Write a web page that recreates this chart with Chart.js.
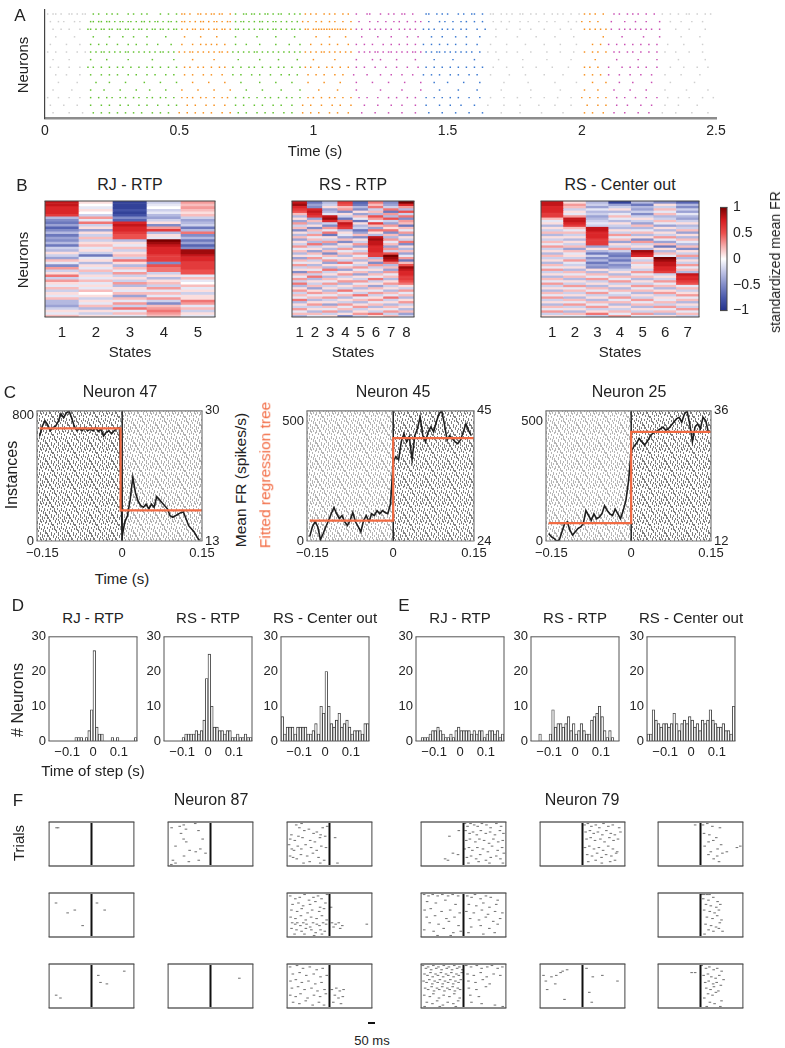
<!DOCTYPE html>
<html>
<head>
<meta charset="utf-8">
<script src="https://cdn.jsdelivr.net/npm/chart.js@4.4.1/dist/chart.umd.min.js"></script>
<style>
  body { margin: 0; background: #fff; }
  #fig { position: relative; width: 785px; height: 1048px; overflow: hidden; color: #222; }
  #fig canvas { position: absolute; }
  .t { position: absolute; white-space: nowrap; line-height: 1; transform: translate(-50%, -50%); }
</style>
</head>
<body>
<div id="fig"></div>
<script>
// ---- panel A: population raster (spike times in 10 ms units, one string per neuron)
const aTicks = [0, 0.5, 1, 1.5, 2, 2.5];
const aStateEdges = [0, 0.16, 0.5, 0.7, 0.96, 1.15, 1.41, 1.65, 2.0, 2.1, 2.3, 2.5];
const aStateColors = ['#cfcfcf', '#62c22f', '#f7901e', '#62c22f', '#f7901e', '#c94fb4', '#3a78d0', '#cfcfcf', '#f7901e', '#c94fb4', '#cfcfcf'];
const aRows = [
  "1 3 4 6 9 10 12 14 15 18 20 23 25 27 31 33 36 38 43 46 49 51 52 54 57 58 60 62 63 65 66 69 71 74 75 77 78 80 82 83 85 87 88 91 93 95 97 99 101 104 106 108 111 113 116 120 121 125 128 130 133 134 137 142 143 146 148 150 154 156 159 160 163 166 167 170 172 174 177 178 181 183 186 189 191 193 196 199 201 203 205 208 212 214 217 219 221 224 227 230 233 236 239 240 243 246 248",
  "2 5 7 11 13 17 18 20 21 23 24 26 28 29 31 32 34 36 37 39 41 42 44 46 47 49 51 52 54 56 58 59 61 63 64 66 68 69 71 73 74 76 78 80 81 83 85 86 88 90 92 94 96 98 101 103 106 108 111 114 117 121 124 127 130 132 135 138 140 143 147 149 152 155 157 160 163 167 170 173 177 180 184 187 190 195 198 200 203 206 211 216 220 224 229 233 237 241 245",
  "3 6 9 13 16 17 19 21 22 24 25 27 28 30 31 33 35 36 38 40 41 43 44 46 48 49 51 53 55 56 58 59 61 63 64 66 67 69 71 72 74 76 78 80 81 83 85 86 88 90 92 93 95 97 98 100 101 102 103 104 105 106 107 108 109 110 111 112 114 116 118 121 123 125 127 129 132 134 136 138 141 143 145 148 150 152 155 157 161 164 168 172 177 181 186 192 196 201 203 205 207 209 211 214 216 218 220 222 224 226 229 235 240 246",
  "4 11 18 24 29 33 38 45 52 58 64 71 79 86 93 101 106 112 118 124 129 135 139 144 148 153 157 162 168 176 183 190 197 208 215 223 229 237 244",
  "2 8 13 17 20 23 27 31 34 38 42 47 51 55 58 60 62 64 67 71 75 80 86 91 95 99 103 106 109 113 116 119 122 126 129 132 135 138 141 144 147 150 153 157 161 166 172 179 186 192 198 204 207 210 213 216 219 222 225 228 232 238 245",
  "1 4 8 12 15 17 19 21 22 24 26 28 30 31 33 35 37 39 41 43 44 46 48 50 52 54 55 57 59 61 63 65 66 68 70 72 74 76 78 79 81 83 85 87 89 91 93 95 97 99 101 103 104 106 108 110 112 114 117 119 121 123 124 126 128 129 131 133 135 137 138 140 142 144 146 147 149 151 153 155 157 159 162 165 168 172 176 181 187 192 197 201 204 206 209 212 214 217 219 222 225 228 231 235 240 245",
  "3 9 17 23 31 40 48 55 63 72 80 87 94 100 108 116 122 125 131 138 145 152 160 169 178 187 196 205 213 221 228 236 246",
  "2 5 9 13 16 18 21 24 27 29 32 35 38 40 43 46 49 52 54 57 59 62 65 67 70 73 76 78 81 84 87 89 92 95 97 99 102 105 107 110 113 116 119 123 127 131 135 139 142 145 148 151 154 157 160 163 167 172 178 183 189 195 201 203 206 210 215 218 221 224 228 233 238 243 247",
  "4 8 13 17 21 24 27 31 34 38 41 45 48 52 55 59 62 66 70 73 77 80 84 88 91 94 98 101 104 108 111 115 120 125 129 133 137 141 144 147 151 154 158 161 166 173 179 186 193 201 204 207 210 214 218 222 226 231 237 244",
  "5 12 19 24 30 37 43 49 55 61 67 73 80 86 92 98 104 110 116 122 128 134 140 145 150 156 162 171 180 190 198 204 209 214 219 226 233 242",
  "3 10 17 22 28 34 39 45 51 57 63 69 75 81 88 95 102 109 116 125 133 140 147 154 161 170 181 192 201 206 212 218 224 231 239 247",
  "1 5 9 13 17 20 23 25 28 30 33 35 38 40 43 45 48 51 53 55 58 60 63 66 68 71 74 76 79 82 84 87 90 92 95 98 100 103 106 108 111 114 117 120 124 128 131 135 138 142 145 148 151 154 158 162 166 171 176 181 186 191 196 200 203 206 209 213 216 220 224 228 232 236 240 245 249",
  "2 7 12 17 21 24 28 31 35 38 42 46 49 53 56 60 63 67 71 74 78 81 85 88 92 96 99 103 107 110 114 119 124 129 133 138 142 147 151 155 160 165 171 177 184 190 196 202 206 209 213 217 222 226 231 236 243",
  "3 9 14 18 21 24 27 30 33 36 40 43 46 50 53 56 59 62 66 69 72 75 79 82 85 89 92 96 99 102 106 109 113 118 123 128 133 138 143 148 153 158 163 170 177 185 193 201 204 208 212 216 221 225 230 235 241 247"
];

// ---- panel B: standardized mean firing rate per neuron (rows) and state (columns)
const bStates = ['1', '2', '3', '4', '5', '6', '7', '8'];
const cbTicks = [-1, -0.5, 0, 0.5, 1];
const rjRtp = [
  [.8,.1,-.9,-.2,.3],[.8,0,-.9,-.1,.2],[.7,-.1,-.9,0,.3],[.7,.1,-.8,-.2,.2],[.7,0,-.9,-.1,.1],[.6,-.2,-.8,-.3,.2],
  [-.3,.3,-.5,-.4,-.2],[-.5,-.1,-.7,-.2,-.4],[-.6,.4,.7,.1,-.3],[-.4,-.2,.8,-.5,-.2],[-.7,.1,.7,.3,-.6],[-.5,-.4,.7,.6,-.3],
  [-.3,.1,.6,-.3,.4],[-.6,-.2,.5,.1,-.5],[-.4,.2,.5,-.1,-.3],[-.5,-.2,-.3,1,-.6],[-.3,.1,.1,.9,-.4],[-.6,.2,-.1,.8,-.7],
  [-.2,-.1,.2,.7,-.5],[-.3,.1,-.2,.7,.9],[.1,-.2,.1,.7,.9],[-.2,-.6,.2,.6,.8],[-.4,-.1,-.2,.6,.7],[.2,.1,.4,.6,.7],
  [-.1,-.3,.1,-.5,.6],[-.5,.1,-.3,.5,.6],[.3,-.1,.2,.4,.6],[-.2,.2,-.1,.4,.5],[.1,-.2,.3,-.2,.5],[.4,.1,-.2,.1,-.1],
  [-.2,-.1,.1,-.3,.2],[.3,.2,-.2,.1,-.1],[.1,-.1,.3,.2,0],[-.1,.1,-.3,-.2,.2],[.2,-.1,.1,.3,-.1],[-.2,.2,-.1,-.1,.1],
  [.1,0,.2,.2,-.2],[-.1,.1,-.4,-.1,.1],[.2,-.2,.2,.3,.1],[-.3,.1,-.1,-.2,.4],[-.3,-.1,.3,-.5,.3],[-.4,.2,-.2,.2,-.1],
  [-.2,-.3,.4,.3,.2],[.1,.1,-.1,.4,-.2],[-.1,-.2,.2,.3,.1],[.2,.1,-.1,.2,-.1]
];
const rsRtp = [
  [.8,-.6,-.3,.6,-.7,.4,-.5,1],[.9,-.4,-.2,.5,-.6,.2,-.4,.7],[.7,-.5,.1,.2,-.3,.4,-.2,.3],[.6,.7,-.4,.3,-.5,-.2,.4,-.3],
  [.5,.8,-.3,-.5,.1,.2,-.6,.5],[.2,.7,-.1,.1,-.4,-.3,.3,-.2],[-.3,.6,.8,-.2,.2,.5,-.3,.4],[.1,-.4,.9,-.6,-.1,.3,.5,-.5],
  [-.4,.2,.7,.4,-.6,-.1,-.2,.3],[.3,-.3,-.2,.8,.1,.6,-.4,.2],[-.2,.1,-.5,.7,-.3,.2,.3,-.6],[.2,-.5,.3,.6,-.2,-.4,.1,.2],
  [-.5,.2,-.1,-.3,-.6,.4,.4,-.1],[.1,-.2,.4,.1,-.4,.1,-.5,.3],[-.3,.3,-.6,-.1,.2,-.3,.2,-.4],[.2,-.1,.1,-.4,-.5,.8,-.3,.1],
  [-.4,.2,-.2,.2,.1,.9,.3,-.2],[.1,-.3,.3,-.5,-.2,.8,-.1,.4],[-.2,.4,-.4,.1,.3,.8,.2,-.5],[.3,-.2,.1,-.2,-.4,.7,-.4,.1],
  [-.1,.1,-.3,.3,.1,.7,.3,-.3],[.2,-.4,.2,-.1,-.2,.7,-.2,.2],[-.3,.2,-.5,.2,.3,.6,.5,-.4],[.1,-.1,.2,-.3,-.1,.6,1,-.1],
  [-.4,.3,-.1,.1,.2,-.3,.9,.3],[.2,-.2,.3,-.2,-.3,.2,.8,-.6],[-.1,.1,-.4,.4,.1,-.5,.4,.2],[.3,-.3,.1,-.1,-.2,.3,-.3,.5],
  [-.2,.2,-.3,.2,.3,-.2,.2,.9],[.1,-.1,.4,-.4,-.1,.1,-.4,.8],[-.5,.3,-.2,.1,.2,-.3,.3,.7],[.2,-.2,.1,.3,-.4,.2,-.1,.7],
  [-.1,.4,-.3,-.2,.1,-.1,.2,.6],[.3,-.3,.2,.1,-.2,.4,-.3,.6],[-.2,.1,-.1,.3,.3,-.2,.1,.5],[.4,-.2,.3,-.3,-.1,.1,.3,.4],
  [-.3,.2,-.2,.1,.2,-.4,-.2,.1],[.1,-.4,.1,-.2,-.3,.2,.1,-.2],[.3,.1,-.3,.4,.1,-.1,-.3,.3],[-.2,.3,.2,-.1,-.2,.3,.2,-.1],
  [.2,-.1,-.1,.2,.4,-.2,-.1,.2],[-.1,.2,.3,-.3,-.1,.1,.4,-.3],[.4,-.3,-.2,.1,.2,.3,-.2,.1],[-.3,.1,.1,-.2,-.3,-.1,.1,.3],
  [.1,.3,-.4,.3,.1,.2,-.3,-.2],[-.2,-.2,.2,-.1,.3,-.3,.2,.1],[.3,.1,-.1,.2,-.2,.1,-.1,-.3],[-.1,-.3,.3,-.3,.1,-.2,.3,.2],
  [.2,.2,-.2,.1,.3,.4,-.2,-.4],[-.3,-.1,.1,-.5,-.2,.1,.2,-.2]
];
const rsCenterOut = [
  [.8,.1,-.3,-.9,-.3,-.5,-.7],[.8,.3,-.2,-.4,-.6,.1,-.3],[.7,.2,-.4,-.2,-.3,-.2,-.5],[.7,-.2,-.1,.1,-.4,.2,-.2],
  [.7,.1,-.3,-.3,-.2,-.1,-.4],[.6,-.1,-.2,-.1,-.5,.2,-.1],[.6,.3,-.4,.2,-.2,-.3,-.3],[.2,.8,-.3,-.1,.1,-.2,-.4],
  [-.1,.8,-.2,-.3,-.2,.2,-.2],[.1,.7,-.1,.1,-.4,-.1,.1],[-.3,.6,-.2,-.2,.2,-.4,-.3],[.1,.2,.8,-.3,-.3,.1,-.2],
  [-.2,-.1,.8,.1,-.1,-.3,.2],[.2,.2,.7,-.2,.2,.1,-.4],[-.3,-.2,.7,.3,-.3,-.2,.1],[.1,.1,.7,-.1,.1,.3,-.3],
  [-.2,-.3,.6,.2,-.5,-.1,.2],[.2,.1,.6,-.4,.3,-.4,-.1],[-.1,-.2,.6,.1,-.2,.2,-.3],[.3,.2,-.4,-.2,.1,-.6,.2],
  [-.2,-.4,.1,.3,-.3,.1,-.5],[.1,.2,-.3,-.2,.9,-.3,.1],[-.3,-.1,-.6,-.5,.8,.2,-.2],[.2,.1,-.2,-.6,.7,-.1,.3],
  [-.2,-.2,-.5,-.4,.1,1,-.3],[.1,.3,-.3,-.6,-.2,.9,.1],[-.3,-.1,-.6,-.3,.2,.8,-.2],[.2,-.2,-.4,-.5,-.1,.8,.3],
  [-.1,.1,-.5,-.4,.1,.7,-.1],[.3,-.3,.1,-.2,-.2,.7,.2],[-.2,.2,-.3,.1,.3,.6,-.3],[.1,-.1,.2,-.3,-.1,-.2,.8],
  [-.3,.2,-.1,.2,.2,.1,.7],[.2,-.3,.3,-.1,-.3,-.2,.7],[-.1,.1,-.2,.3,.1,.3,.6],[.3,-.2,.1,-.2,-.2,-.1,.5],
  [-.2,.3,-.3,.1,.3,.2,-.1],[.1,-.1,.2,-.3,-.1,-.3,.2],[-.3,.2,-.1,.2,.2,.1,-.2],[.2,-.2,.3,-.1,-.3,.3,.1],
  [-.1,.1,-.2,-.2,.1,-.2,.3],[.3,-.3,.1,.3,-.2,.1,-.1],[-.2,.2,-.3,-.1,.3,-.1,.2],[.1,-.1,.2,.2,-.1,.2,-.3],
  [-.3,.3,-.1,-.3,.2,-.2,.1],[.2,-.2,.3,.1,-.3,.3,-.2],[-.1,.1,-.2,-.2,.1,-.1,.3],[.3,-.3,.1,.2,-.2,.2,-.1],
  [-.2,.2,.4,-.1,.3,-.3,.2],[.1,-.1,-.2,.3,-.1,.1,-.2]
];

// ---- panel C: mean firing rate around the fitted step, and the fitted step [time, before, after]
const cTime = [-0.155,-0.15,-0.145,-0.14,-0.135,-0.13,-0.125,-0.12,-0.115,-0.11,-0.105,-0.1,-0.095,-0.09,-0.085,-0.08,-0.075,-0.07,-0.065,-0.06,-0.055,-0.05,-0.045,-0.04,-0.035,-0.03,-0.025,-0.02,-0.015,-0.01,-0.005,0,0.005,0.01,0.015,0.02,0.025,0.03,0.035,0.04,0.045,0.05,0.055,0.06,0.065,0.07,0.075,0.08,0.085,0.09,0.095,0.1,0.105,0.11,0.115,0.12,0.125,0.13,0.135,0.14,0.145];
const cTicks = [-0.15, 0, 0.15];
const n47Rate = [26.7,28.0,28.7,28.2,27.4,27.8,28.0,28.6,29.6,29.1,29.7,30.0,29.1,28.0,27.4,27.7,27.4,27.8,27.4,27.6,27.4,27.8,27.3,27.6,26.7,27.2,27.4,27.0,27.4,27.7,27.8,
  13.6,15.5,16.3,18.4,21.3,19.3,18.2,17.6,17.4,17.8,17.2,17.8,17.4,18.8,18.4,18.0,17.6,17.2,16.3,16.1,16.3,16.5,16.7,16.8,15.9,15.0,14.6,14.2,13.6,13.1];
const n45Rate = [24.7,26.3,27.1,26.3,24.2,25.2,26.3,27.3,28.4,29.4,28.4,27.6,28.1,27.1,26.5,27.3,28.6,27.1,26.3,25.5,27.3,28.1,27.1,28.4,28.1,28.9,28.4,28.9,28.6,28.4,30.0,
  36.8,37.6,37.1,40.0,41.3,40.0,40.8,37.1,41.0,42.1,44.0,41.0,40.0,41.6,42.4,41.6,43.2,44.5,45.0,42.9,40.3,41.0,40.5,40.0,39.7,40.3,41.6,42.9,41.8,41.0];
const n25Rate = [13.4,12.8,12.5,12.0,12.2,13.7,15.2,15.5,14.0,13.1,13.7,14.3,14.6,15.2,17.6,16.7,15.8,17.0,16.1,16.4,17.0,18.5,17.6,17.0,16.7,17.9,17.0,16.1,17.6,19.4,23.0,
  28.5,29.4,30.0,30.9,30.3,29.7,30.3,31.2,31.8,32.1,32.4,32.7,33.0,32.4,32.7,33.3,33.9,34.5,34.8,33.9,35.4,36.0,33.6,30.3,33.0,33.6,32.7,34.8,34.2,32.1];
const n47Fit = [-0.003, 27.7, 17.0];
const n45Fit = [0, 27.3, 40.6];
const n25Fit = [0, 15.3, 32.1];

// ---- panels D, E: histograms of step times (0.01 s bins)
const binCenters = [-0.165,-0.155,-0.145,-0.135,-0.125,-0.115,-0.105,-0.095,-0.085,-0.075,-0.065,-0.055,-0.045,-0.035,-0.025,-0.015,-0.005,0.005,0.015,0.025,0.035,0.045,0.055,0.065,0.075,0.085,0.095,0.105,0.115,0.125,0.135,0.145,0.155,0.165];
const histTicks = [-0.1, 0, 0.1];
const countTicks = [0, 10, 20, 30];
const dRjRtp = [0,0,0,0,0,0,0,0,0,0,1,1,1,0,1,3,9,26,4,2,2,0,0,0,1,0,1,0,0,0,0,0,0,1];
const dRsRtp = [0,0,0,0,0,0,0,1,2,2,2,2,3,2,3,6,18,25,10,4,4,3,3,2,3,3,1,1,2,1,1,2,1,1];
const dRsCenterOut = [7,2,4,4,4,2,4,4,4,4,2,2,3,5,2,10,8,20,10,5,4,6,8,4,5,6,4,2,3,3,3,2,5,5];
const eRjRtp = [0,0,1,1,1,2,3,3,4,3,2,1,1,2,1,3,4,3,3,3,3,2,3,2,3,3,1,2,3,3,2,3,1,2];
const eRsRtp = [0,0,0,2,0,0,0,2,9,4,5,5,4,5,7,3,5,2,3,5,3,2,2,6,7,8,10,7,3,1,3,1,0,0];
const eRsCenterOut = [2,2,9,6,5,4,5,5,4,5,8,5,3,5,6,5,7,6,4,5,3,6,5,6,9,6,5,4,4,5,3,3,2,10];

// ---- panel F: example trials, "ms,trial" pairs per box, rows x (RJ-RTP, RS-RTP, RS-Center out)
const n87Trials = [
  ["-268,4 -256,4",
   "-298,4 -236,3 -205,2 -188,5 -226,8 -117,1 -92,6 -206,12 -268,17 -160,20 -113,21 -78,19 -38,22 -288,27 -268,29 -166,28 -90,27 -203,24 -300,30 -186,14 -60,12",
   "-310,16 -292,9 -255,2 -231,4 -214,1 -193,6 -158,5 -122,8 -97,7 -68,9 -52,4 -18,3 -301,12 -266,13 -238,10 -207,11 -148,13 -112,14 -73,11 -33,10 -289,19 -272,20 -243,17 -216,19 -183,16 -141,18 -98,20 -63,17 -27,18 -302,24 -279,25 -251,26 -219,23 -171,24 -127,22 -84,25 -41,27 -199,29 -152,28 -71,29 43,11 61,29"],
  ["-272,7 -183,14 -128,12 42,7 101,12 -68,23",
   null,
   "-301,2 -262,4 -228,3 -191,1 -157,5 -123,3 -88,2 -61,4 -19,1 -283,8 -238,7 -202,9 -149,8 -108,6 -72,10 -31,7 -292,12 -248,13 -213,11 -168,14 -133,12 -79,13 -42,11 -298,17 -261,18 -219,16 -182,19 -141,17 -99,18 -58,16 -22,19 -286,21 -263,22 -247,21 -223,23 -201,21 -176,22 -148,24 -126,21 -97,22 -77,23 -49,21 -26,22 -291,25 -253,26 -214,27 -181,25 -139,26 -106,28 -69,26 -36,27 -268,29 -192,29 -118,30 -58,29 19,21 47,22 71,21 98,23 31,24 82,25 286,22 12,10"],
  ["-271,22 -238,24 52,8 69,13 118,14 251,5",
   "221,10",
   "-302,2 -249,1 -203,3 -151,2 -98,4 -52,3 -281,7 -229,6 -178,8 -121,7 -69,9 -21,8 -299,12 -258,11 -212,13 -161,12 -109,14 -61,13 -288,17 -241,16 -191,18 -138,17 -92,19 -38,18 -301,22 -259,23 -222,21 -168,24 -119,22 -72,23 -28,21 -279,27 -231,28 -182,26 -129,29 -81,27 -42,29 18,18 52,17 79,19 108,18 41,22 69,24 102,23 29,27 88,28"]
];
const n79Trials = [
  ["-108,10 -36,6 -81,22 -141,26 -119,27 -42,23 11,1 31,3 54,1 82,2 109,3 141,1 176,2 208,4 252,1 288,3 16,6 47,8 73,7 102,9 133,6 171,8 204,7 241,9 279,6 306,8 21,13 49,12 91,14 122,12 158,13 196,15 229,12 266,14 301,13 9,19 42,18 68,20 106,18 149,19 187,21 219,17 262,20 296,18 26,25 58,24 97,26 128,23 172,27 209,25 251,24 283,26 309,22 38,29 116,28 199,29 302,29",
   "16,2 41,1 68,3 102,2 129,4 161,1 198,3 232,2 281,4 24,7 57,6 86,8 118,7 152,9 183,6 217,8 248,9 291,7 31,12 63,11 96,13 137,12 169,14 206,11 238,13 272,12 19,18 52,17 88,19 126,18 158,20 197,17 233,19 266,21 36,23 73,24 112,22 146,25 181,23 221,24 258,22 44,28 101,27 148,29 212,28 249,27",
   "-41,2 19,2 52,1 91,3 149,4 27,8 68,9 121,11 62,14 98,13 158,16 32,17 131,19 79,21 168,22 202,21 279,18 128,24 101,26 61,23 142,28 305,17"],
  ["-302,1 -268,2 -236,1 -198,2 -162,1 -118,2 -83,1 -41,2 -279,6 -212,7 -139,5 -61,8 -298,12 -251,11 -168,13 -102,12 -29,14 -282,17 -218,16 -131,18 -69,17 -259,21 -191,22 -112,20 -38,23 -301,26 -229,27 -152,25 -78,28 -21,27 -199,30 -98,30 29,2 62,3 88,1 131,4 172,2 209,3 262,5 41,8 98,9 152,7 199,10 251,8 22,13 79,14 141,12 188,15 242,13 298,14 51,18 119,19 171,17 228,20 281,18 59,24 132,23 198,25 262,22 38,28 152,29 239,28",
   null,
   "11,1 29,1 52,1 69,1 21,4 61,5 98,3 131,6 42,8 79,9 121,10 152,8 28,12 71,13 108,14 141,12 49,17 92,18 128,16 161,19 39,22 81,23 119,24 148,21 62,26 99,27 141,25 169,27 31,29"],
  ["-311,1 -288,3 -271,2 -248,4 -231,1 -209,3 -192,2 -168,4 -151,1 -128,3 -112,2 -88,4 -71,1 -49,3 -32,2 -9,4 -299,7 -276,8 -253,6 -236,9 -214,7 -196,8 -173,6 -156,9 -134,7 -117,8 -93,6 -76,9 -54,7 -36,8 -13,6 -306,12 -283,13 -262,11 -239,14 -221,12 -198,13 -181,11 -159,14 -142,12 -118,13 -101,11 -79,14 -62,12 -38,13 -21,11 -294,17 -271,18 -244,16 -226,19 -203,17 -186,18 -163,16 -146,19 -124,17 -106,18 -83,16 -66,19 -44,17 -26,18 -301,22 -258,23 -231,21 -188,24 -152,22 -108,23 -71,21 -29,24 -281,27 -238,28 -202,26 -158,29 -121,27 -78,28 -41,26 -298,30 -182,30 -59,30 21,1 58,2 102,1 139,3 182,2 218,1 262,3 298,2 31,7 79,8 132,6 178,9 231,7 282,8 38,12 92,13 148,11 201,14 41,17 99,18 172,16 52,22 118,23 61,27 139,28 241,29 301,30",
   "-281,12 -238,9 -201,8 -168,6 -152,5 -118,4 -299,8 -209,14 -271,18 -138,25 31,3 79,9 152,8 268,12 52,20 71,27",
   "-68,6 -41,6 9,1 42,3 68,2 101,4 128,3 162,5 24,8 57,7 83,9 116,10 144,8 177,11 36,13 63,12 97,14 124,13 156,15 44,17 77,18 103,16 137,19 58,21 92,22 118,20 29,24 161,26 72,27 108,28 48,30 152,30"]
];
const fLimits = [-325, 325];

// ---------------------------------------------------------------------------
const fig = document.getElementById('fig');
const SANS = "'Liberation Sans', Arial, sans-serif";
const NARROW = "'Liberation Sans Narrow', 'Liberation Sans', Arial, sans-serif";
const INK = '#222';
const FIT = '#f26b43';

function txt(s, cx, cy, size, o = {}) {
  const d = document.createElement('div');
  d.className = 't';
  d.textContent = s;
  d.style.left = cx + 'px';
  d.style.top = cy + 'px';
  d.style.fontSize = size + 'px';
  d.style.fontFamily = o.narrow ? NARROW : SANS;
  if (o.color) d.style.color = o.color;
  if (o.rot) d.style.transform = 'translate(-50%, -50%) rotate(-90deg)';
  fig.appendChild(d);
}

function canvasFor(x, y, w, h) {
  const c = document.createElement('canvas');
  c.width = Math.round(w);
  c.height = Math.round(h);
  c.style.left = Math.round(x) + 'px';
  c.style.top = Math.round(y) + 'px';
  fig.appendChild(c);
  return c;
}

const fixW = w => s => { s.width = w; };
const fixH = h => s => { s.height = h; };
const setTicks = vals => s => { s.ticks = vals.map(v => ({ value: v })); };
const fmt = v => (v < 0 ? '\u2212' : '') + Math.abs(v);
const noGrid = { display: false, drawTicks: false };

function opts(pad, scales, plug) {
  return {
    animation: false, responsive: false, events: [],
    layout: { padding: pad },
    scales: scales,
    plugins: Object.assign({ legend: { display: false }, tooltip: { enabled: false } }, plug || {})
  };
}

// box around the plot area
const frame = {
  id: 'frame',
  afterDatasetsDraw(ch, args, o) {
    if (!o || !o.on) return;
    const { left: l, top: t, right: r, bottom: b } = ch.chartArea;
    const g = ch.ctx;
    const seg = (x1, y1, x2, y2, c, w) => {
      g.strokeStyle = c; g.lineWidth = w;
      g.beginPath(); g.moveTo(x1, y1); g.lineTo(x2, y2); g.stroke();
    };
    const tb = o.tbColor ? [o.tbColor, o.tbWidth] : [o.color, o.width];
    g.save();
    seg(l - 0.5, t, r + 0.5, t, tb[0], tb[1]);
    seg(l - 0.5, b, r + 0.5, b, tb[0], tb[1]);
    seg(l, t, l, b, o.color, o.width);
    seg(r, t, r, b, o.color, o.width);
    g.restore();
  }
};

// dense trial raster behind the PSTH, density follows the fitted rate
const tileDashes = [[0,0,3],[0,9,2],[1,4,4],[2,12,3],[3,1,2],[3,7,4],[4,15,2],[5,3,3],[5,11,3],[6,0,2],[7,6,4],[7,14,3],
  [8,2,2],[9,9,3],[9,16,2],[10,0,4],[11,12,3],[12,4,3],[12,10,2],[13,0,2],[13,15,2],[14,6,4],[15,2,2],[15,13,3],
  [16,9,2],[17,0,3],[17,15,2],[18,6,3],[18,11,3],[19,2,2],[20,8,4],[20,16,2],[21,3,3],[21,12,2],
  [1,14,2],[4,9,2],[6,12,2],[8,16,2],[10,7,2],[11,3,2],[14,11,2],[16,4,2],[19,13,2],[2,6,2]];
function rasterTile(alpha) {
  const t = document.createElement('canvas');
  t.width = 22; t.height = 18;
  const g = t.getContext('2d');
  g.fillStyle = 'rgba(50,50,50,' + alpha + ')';
  tileDashes.forEach(([x, y, len]) => g.fillRect(x, y, 1, len));
  return t;
}
const texture = {
  id: 'texture',
  beforeDatasetsDraw(ch, args, o) {
    if (!o || !o.alphas) return;
    const { left, top, right, bottom } = ch.chartArea;
    const xs = ch.scales.x.getPixelForValue(o.split);
    const g = ch.ctx;
    g.save();
    g.fillStyle = g.createPattern(rasterTile(o.alphas[0]), 'repeat');
    g.fillRect(left, top, xs - left, bottom - top);
    g.fillStyle = g.createPattern(rasterTile(o.alphas[1]), 'repeat');
    g.fillRect(xs, top, right - xs, bottom - top);
    g.restore();
  }
};

// colour map for panel B
const heatStops = [[-1,[35,50,140]],[-0.75,[75,90,172]],[-0.5,[130,140,200]],[-0.25,[192,196,230]],[0,[255,255,255]],
  [0.25,[246,172,172]],[0.5,[236,80,78]],[0.75,[214,28,32]],[1,[120,0,0]]];
function heatColor(v) {
  v = Math.max(-1, Math.min(1, v));
  for (let i = 0; i < heatStops.length - 1; i++) {
    const [v0, c0] = heatStops[i], [v1, c1] = heatStops[i + 1];
    if (v <= v1) {
      const f = (v - v0) / (v1 - v0);
      return 'rgb(' + c0.map((c, k) => Math.round(c + f * (c1[k] - c))).join(',') + ')';
    }
  }
}
const colorbar = {
  id: 'colorbar',
  beforeDatasetsDraw(ch, args, o) {
    if (!o || !o.on) return;
    const { left, top, right, bottom } = ch.chartArea;
    const y = ch.scales.y;
    const g = ch.ctx;
    const grad = g.createLinearGradient(0, y.getPixelForValue(-1), 0, y.getPixelForValue(1));
    heatStops.forEach(([v, c]) => grad.addColorStop((v + 1) / 2, 'rgb(' + c.join(',') + ')'));
    g.save();
    g.fillStyle = grad;
    g.fillRect(left, top, right - left, bottom - top);
    g.restore();
  }
};
Chart.register(frame, texture, colorbar);

// ---------------- panel A
(function () {
  const pts = [], cols = [];
  aRows.forEach((row, r) => row.trim().split(/\s+/).forEach(v => {
    const t = +v / 100;
    let k = 0;
    while (k < aStateColors.length - 1 && t >= aStateEdges[k + 1]) k++;
    pts.push({ x: t, y: r + 1 });
    cols.push(aStateColors[k]);
  }));
  new Chart(canvasFor(0, 0, 45 + 671 + 22, 10 + 108 + 26), {
    type: 'scatter',
    data: { datasets: [{ data: pts, pointStyle: 'rect', pointRadius: 1.05, pointBorderWidth: 0, pointBackgroundColor: cols }] },
    options: opts({ top: 10, left: 0, right: 22, bottom: 0 }, {
      x: { type: 'linear', min: 0, max: 2.5, afterBuildTicks: setTicks(aTicks), afterFit: fixH(26), grid: noGrid,
        border: { color: '#8c8c8c', width: 2.5 },
        ticks: { padding: 5, color: INK, font: { family: SANS, size: 14 }, callback: fmt, maxRotation: 0 } },
      y: { min: 0.47, max: 14.68, reverse: true, afterFit: fixW(45), grid: noGrid,
        border: { color: '#444', width: 1.2 }, ticks: { display: false } }
    })
  });
})();
txt('A', 20, 15, 17);
txt('Neurons', 22, 65, 15, { rot: true });
txt('Time (s)', 315, 150, 15);

// ---------------- panel B
function heat(box, rows) {
  const nC = rows[0].length;
  new Chart(canvasFor(box.x - 4, box.y - 8, box.w + 8, box.h + 8 + 28), {
    type: 'bar',
    data: {
      labels: bStates.slice(0, nC),
      datasets: rows.map(r => ({ data: r.map(() => 1), backgroundColor: r.map(heatColor), borderWidth: 0,
        barPercentage: 1, categoryPercentage: 1 }))
    },
    options: opts({ top: 8, left: 0, right: 4, bottom: 0 }, {
      x: { stacked: true, afterFit: fixH(28), grid: noGrid, border: { display: false },
        ticks: { padding: 7, color: INK, font: { family: SANS, size: 15 } } },
      y: { stacked: true, min: 0, max: rows.length, reverse: true, afterFit: fixW(4), grid: noGrid,
        border: { display: false }, ticks: { display: false } }
    }, { frame: { on: true, color: '#444', width: 1 } })
  });
}
heat({ x: 45, y: 201, w: 170, h: 116 }, rjRtp);
heat({ x: 292, y: 201, w: 122, h: 116 }, rsRtp);
heat({ x: 541, y: 201, w: 158, h: 116 }, rsCenterOut);
new Chart(canvasFor(720, 193, 7 + 42, 116 + 16), {
  type: 'scatter',
  data: { datasets: [] },
  options: opts({ top: 8, left: 0, right: 0, bottom: 8 }, {
    x: { display: false, min: 0, max: 1 },
    y: { position: 'right', min: -1, max: 1, afterBuildTicks: setTicks(cbTicks), afterFit: fixW(42), grid: noGrid,
      border: { display: false }, ticks: { padding: 6, color: INK, font: { family: SANS, size: 14 }, callback: fmt } }
  }, { colorbar: { on: true }, frame: { on: true, color: '#444', width: 1 } })
});
txt('B', 22, 185, 17);
txt('RJ - RTP', 130, 185, 16);
txt('RS - RTP', 353, 185, 16);
txt('RS - Center out', 620, 185, 16);
txt('Neurons', 22, 260, 15, { rot: true });
txt('States', 130, 351, 15);
txt('States', 353, 351, 15);
txt('States', 620, 351, 15);
txt('standardized mean FR', 775, 262, 14, { rot: true });

// ---------------- panel C
function cPanel(box, rate, fit, instMax, instTicks, frLim) {
  const padL = 37, padR = 26;
  const span = frLim[1] - frLim[0];
  const alphas = [0.3 + 0.4 * (fit[1] - frLim[0]) / span, 0.3 + 0.4 * (fit[2] - frLim[0]) / span];
  const step = [{ x: cTime[0], y: fit[1] }, { x: fit[0], y: fit[1] }, { x: fit[0], y: fit[2] }, { x: 0.15, y: fit[2] }];
  new Chart(canvasFor(box.x - padL, box.y - 8, box.w + padL + padR, box.h + 8 + 24), {
    type: 'scatter',
    data: {
      datasets: [
        { data: step, yAxisID: 'y2', showLine: true, borderColor: FIT, borderWidth: 2.2, pointRadius: 0, order: 0 },
        { data: cTime.map((t, i) => ({ x: t, y: rate[i] })), yAxisID: 'y2', showLine: true, borderColor: '#1e1e1e',
          borderWidth: 1.6, pointRadius: 0, order: 1 },
        { data: [{ x: 0, y: 0 }, { x: 0, y: instMax }], yAxisID: 'y', showLine: true, borderColor: '#111',
          borderWidth: 1.4, pointRadius: 0, order: 2 }
      ]
    },
    options: opts({ top: 8, left: 0, right: 0, bottom: 0 }, {
      x: { type: 'linear', min: -0.16, max: 0.15, afterBuildTicks: setTicks(cTicks), afterFit: fixH(24), grid: noGrid,
        border: { display: false }, ticks: { padding: 5, color: INK, font: { family: SANS, size: 13 }, callback: fmt } },
      y: { min: 0, max: instMax, afterBuildTicks: setTicks(instTicks), afterFit: fixW(padL), grid: noGrid,
        border: { display: false }, ticks: { padding: 3, color: INK, font: { family: SANS, size: 13 } } },
      y2: { position: 'right', min: frLim[0], max: frLim[1], afterBuildTicks: setTicks(frLim), afterFit: fixW(padR),
        grid: noGrid, border: { display: false }, ticks: { padding: 3, color: INK, font: { family: SANS, size: 13 } } }
    }, { texture: { alphas: alphas, split: fit[0] }, frame: { on: true, color: '#777', width: 1.2 } })
  });
}
cPanel({ x: 37, y: 408, w: 165, h: 133 }, n47Rate, n47Fit, 831, [0, 800], [13, 30]);
cPanel({ x: 307, y: 408, w: 167, h: 133 }, n45Rate, n45Fit, 545, [0, 500], [24, 45]);
cPanel({ x: 546, y: 408, w: 165, h: 133 }, n25Rate, n25Fit, 545, [0, 500], [12, 36]);
txt('C', 10, 392, 17);
txt('Neuron 47', 120, 392, 16);
txt('Neuron 45', 393, 392, 16);
txt('Neuron 25', 629, 392, 16);
txt('Instances', 12, 475, 16, { rot: true });
txt('Time (s)', 122, 578, 15);
txt('Mean FR (spikes/s)', 241, 480, 15.5, { rot: true });
txt('Fitted regression tree', 265, 475, 15.5, { rot: true, color: FIT });

// ---------------- panels D and E
function hist(box, counts) {
  new Chart(canvasFor(box.x - 22, box.y - 8, box.w + 30, box.h + 30), {
    type: 'bar',
    data: { datasets: [{ data: counts.map((c, i) => ({ x: binCenters[i], y: c })), backgroundColor: '#ffffff',
      borderColor: '#3a3a3a', borderWidth: 0.9, barPercentage: 1, categoryPercentage: 1 }] },
    options: opts({ top: 8, left: 0, right: 8, bottom: 0 }, {
      x: { type: 'linear', min: -0.17, max: 0.17, offset: false, afterBuildTicks: setTicks(histTicks), afterFit: fixH(22),
        grid: noGrid, border: { display: false },
        ticks: { padding: 4, color: INK, font: { family: NARROW, size: 13 }, callback: fmt } },
      y: { min: 0, max: 30, afterBuildTicks: setTicks(countTicks), afterFit: fixW(22), grid: noGrid,
        border: { display: false }, ticks: { padding: 3, color: INK, font: { family: NARROW, size: 13 } } }
    }, { frame: { on: true, color: '#555', width: 1 } })
  });
}
hist({ x: 49, y: 634, w: 88, h: 107 }, dRjRtp);
hist({ x: 164, y: 634, w: 88, h: 107 }, dRsRtp);
hist({ x: 281, y: 634, w: 88, h: 107 }, dRsCenterOut);
hist({ x: 416, y: 634, w: 88, h: 107 }, eRjRtp);
hist({ x: 531, y: 634, w: 88, h: 107 }, eRsRtp);
hist({ x: 647, y: 634, w: 88, h: 107 }, eRsCenterOut);
txt('D', 18, 605, 17, { narrow: true });
txt('E', 404, 605, 17, { narrow: true });
[['RJ - RTP', 93], ['RS - RTP', 208], ['RS - Center out', 325], ['RJ - RTP', 460], ['RS - RTP', 575], ['RS - Center out', 691]]
  .forEach(([s, x]) => txt(s, x, 617, 15, { narrow: true }));
txt('# Neurons', 18, 700, 16, { rot: true });
txt('Time of step (s)', 93, 770, 15, { narrow: true });

// ---------------- panel F
const fLefts = [46, 165, 284, 418, 537, 655];
const fTops = [819, 890, 961];
let fScale = null;
function trialBox(x, y, str) {
  const pts = str.trim().split(/\s+/).map(p => { const [t, k] = p.split(','); return { x: +t, y: +k }; });
  const ch = new Chart(canvasFor(x - 2, y - 2, 91 + 4, 50 + 4), {
    type: 'scatter',
    data: { datasets: [
      { data: pts, pointStyle: 'line', pointRadius: 1.3, pointBorderWidth: 1.1, pointBorderColor: '#7a7a7a', order: 1 },
      { data: [{ x: 0, y: 0 }, { x: 0, y: 31 }], showLine: true, borderColor: '#111', borderWidth: 2, pointRadius: 0, order: 0 }
    ] },
    options: opts({ top: 2, left: 2, right: 2, bottom: 2 }, {
      x: { display: false, min: fLimits[0], max: fLimits[1] },
      y: { display: false, min: 0, max: 31, reverse: true }
    }, { frame: { on: true, color: '#444', width: 1, tbColor: '#8a8a8a', tbWidth: 2 } })
  });
  return ch;
}
[n87Trials, n79Trials].forEach((neuron, n) => {
  neuron.forEach((row, r) => row.forEach((s, c) => {
    if (s === null) return;
    const ch = trialBox(fLefts[n * 3 + c], fTops[r], s);
    if (n === 0 && r === 2 && c === 2) fScale = ch.scales.x;
  }));
});
// 50 ms scale bar
const bar = document.createElement('div');
bar.style.cssText = 'position:absolute;left:368px;top:1022px;height:2px;background:#111;width:' +
  (fScale.getPixelForValue(50) - fScale.getPixelForValue(0)).toFixed(1) + 'px';
fig.appendChild(bar);
txt('F', 18, 800, 17, { narrow: true });
txt('Neuron 87', 211, 800, 16, { narrow: true });
txt('Neuron 79', 582, 800, 16, { narrow: true });
txt('Trials', 18, 843, 15, { rot: true });
txt('50 ms', 372, 1040, 13, { narrow: true });
</script>
</body>
</html>
